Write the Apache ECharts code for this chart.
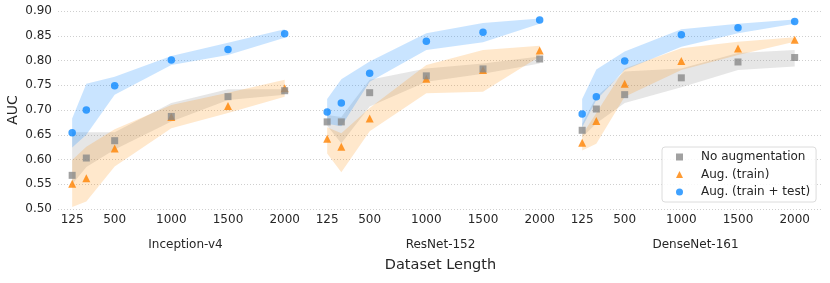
<!DOCTYPE html>
<html><head><meta charset="utf-8">
<script src="https://cdn.jsdelivr.net/npm/echarts@6/dist/echarts.min.js"></script>
<style>html,body{margin:0;padding:0;background:#fff}#c{width:830px;height:283px}</style>
</head><body><div id="c"></div>
<script>
// ---- data ----
const lengths = [125, 250, 500, 1000, 1500, 2000];
const xTickValues = [125, 500, 1000, 1500, 2000];
const models = ['Inception-v4', 'ResNet-152', 'DenseNet-161'];
const seriesNames = ['No augmentation', 'Aug. (train)', 'Aug. (train + test)'];

// Inception-v4
const incNoAug   = [0.568, 0.603, 0.638, 0.687, 0.727, 0.739];
const incNoAugLo = [0.550, 0.585, 0.620, 0.677, 0.720, 0.731];
const incNoAugHi = [0.655, 0.655, 0.655, 0.714, 0.742, 0.742];
const incAug     = [0.551, 0.562, 0.622, 0.686, 0.708, 0.744];
const incAugLo   = [0.504, 0.515, 0.586, 0.663, 0.694, 0.727];
const incAugHi   = [0.599, 0.626, 0.661, 0.710, 0.735, 0.761];
const incTta     = [0.654, 0.700, 0.749, 0.801, 0.822, 0.854];
const incTtaLo   = [0.624, 0.650, 0.731, 0.791, 0.811, 0.846];
const incTtaHi   = [0.683, 0.753, 0.767, 0.809, 0.836, 0.863];

// ResNet-152
const resNoAug   = [0.676, 0.676, 0.735, 0.769, 0.783, 0.803];
const resNoAugLo = [0.668, 0.633, 0.707, 0.757, 0.773, 0.794];
const resNoAugHi = [0.690, 0.686, 0.761, 0.784, 0.794, 0.808];
const resAug     = [0.642, 0.626, 0.683, 0.763, 0.781, 0.820];
const resAugLo   = [0.612, 0.574, 0.657, 0.734, 0.737, 0.808];
const resAugHi   = [0.665, 0.653, 0.704, 0.791, 0.821, 0.830];
const resTta     = [0.696, 0.714, 0.774, 0.839, 0.857, 0.882];
const resTtaLo   = [0.672, 0.667, 0.757, 0.821, 0.837, 0.874];
const resTtaHi   = [0.722, 0.762, 0.798, 0.855, 0.876, 0.885];

// DenseNet-161
const denNoAug   = [0.659, 0.702, 0.731, 0.765, 0.797, 0.806];
const denNoAugLo = [0.645, 0.673, 0.714, 0.746, 0.781, 0.788];
const denNoAugHi = [0.672, 0.727, 0.778, 0.784, 0.815, 0.821];
const denAug     = [0.634, 0.678, 0.753, 0.799, 0.824, 0.842];
const denAugLo   = [0.618, 0.632, 0.727, 0.781, 0.811, 0.838];
const denAugHi   = [0.650, 0.694, 0.784, 0.825, 0.838, 0.847];
const denTta     = [0.692, 0.727, 0.799, 0.852, 0.866, 0.879];
const denTtaLo   = [0.665, 0.720, 0.781, 0.828, 0.855, 0.874];
const denTtaHi   = [0.722, 0.782, 0.818, 0.863, 0.874, 0.883];

const panels = [
  {noAug: incNoAug, noAugLo: incNoAugLo, noAugHi: incNoAugHi, aug: incAug, augLo: incAugLo, augHi: incAugHi, tta: incTta, ttaLo: incTtaLo, ttaHi: incTtaHi},
  {noAug: resNoAug, noAugLo: resNoAugLo, noAugHi: resNoAugHi, aug: resAug, augLo: resAugLo, augHi: resAugHi, tta: resTta, ttaLo: resTtaLo, ttaHi: resTtaHi},
  {noAug: denNoAug, noAugLo: denNoAugLo, noAugHi: denNoAugHi, aug: denAug, augLo: denAugLo, augHi: denAugHi, tta: denTta, ttaLo: denTtaLo, ttaHi: denTtaHi}
];

// ---- styles ----
const FONT = 'DejaVu Sans';
const TXT = '#262626';
const C_GRAY = '#8a8a8a', C_ORANGE = '#ff8200', C_BLUE = '#0f8aff';
const B_GRAY = 'rgba(128,128,128,0.2)', B_ORANGE = 'rgba(255,140,0,0.2)', B_BLUE = 'rgba(30,144,255,0.24)';

const chart = echarts.init(document.getElementById('c'), null, {renderer: 'canvas'});

const GL = 58, GW = 255, GT = 11, GH = 198;
const grids = [], xAxes = [], yAxes = [], series = [];

function band(i, lo, hi, color) {
  return {
    type: 'custom', xAxisIndex: i, yAxisIndex: i, silent: true, z: 1, clip: true,
    data: [[lengths[0], lo[0]]],
    renderItem: function (params, api) {
      const pts = [];
      for (let k = 0; k < lengths.length; k++) pts.push(api.coord([lengths[k], hi[k]]));
      for (let k = lengths.length - 1; k >= 0; k--) pts.push(api.coord([lengths[k], lo[k]]));
      return {type: 'polygon', shape: {points: pts}, style: {fill: color}};
    }
  };
}
function pts(vals) { return lengths.map((x, k) => [x, vals[k]]); }

panels.forEach((p, i) => {
  grids.push({left: GL + GW * i, top: GT, width: GW, height: GH, containLabel: false});
  xAxes.push({
    type: 'value', gridIndex: i, min: 0, max: 2250,
    name: models[i], nameLocation: 'middle', nameGap: 30,
    nameTextStyle: {fontFamily: FONT, fontSize: 12, color: TXT},
    axisLine: {show: false}, axisTick: {show: false}, splitLine: {show: false},
    axisLabel: {customValues: xTickValues, fontFamily: FONT, fontSize: 12, color: TXT, margin: 5,
      hideOverlap: false, formatter: v => String(v)}
  });
  yAxes.push({
    type: 'value', gridIndex: i, min: 0.5, max: 0.9, interval: 0.05,
    name: i === 0 ? 'AUC' : '', nameLocation: 'middle', nameGap: 38,
    nameTextStyle: {fontFamily: FONT, fontSize: 14, color: TXT},
    axisLine: {show: false}, axisTick: {show: false},
    splitLine: {show: true, lineStyle: {color: '#cfcfcf', width: 1, type: [1, 2]}},
    axisLabel: {show: i === 0, fontFamily: FONT, fontSize: 12, color: TXT, margin: 6,
      formatter: v => v.toFixed(2)}
  });
  series.push(band(i, p.noAugLo, p.noAugHi, B_GRAY));
  series.push(band(i, p.augLo, p.augHi, B_ORANGE));
  series.push(band(i, p.ttaLo, p.ttaHi, B_BLUE));
  series.push({name: seriesNames[1], type: 'scatter', xAxisIndex: i, yAxisIndex: i, z: 3,
    symbol: 'triangle', symbolSize: 8, itemStyle: {color: C_ORANGE}, data: pts(p.aug), silent: true});
  series.push({name: seriesNames[2], type: 'scatter', xAxisIndex: i, yAxisIndex: i, z: 4,
    symbol: 'circle', symbolSize: 7.5, itemStyle: {color: C_BLUE}, data: pts(p.tta), silent: true});
  series.push({name: seriesNames[0], type: 'scatter', xAxisIndex: i, yAxisIndex: i, z: 5,
    symbol: 'rect', symbolSize: 7, itemStyle: {color: C_GRAY}, data: pts(p.noAug), silent: true});
});

chart.setOption({
  animation: false,
  backgroundColor: '#fff',
  grid: grids, xAxis: xAxes, yAxis: yAxes, series: series,
  legend: {
    orient: 'vertical', left: 662, top: 147,
    data: [
      {name: seriesNames[0], icon: 'rect'},
      {name: seriesNames[1], icon: 'triangle'},
      {name: seriesNames[2], icon: 'circle'}
    ],
    itemWidth: 7, itemHeight: 7, itemGap: 5.5,
    padding: [4, 6, 4, 14],
    backgroundColor: 'rgba(255,255,255,0.85)', borderColor: '#dcdcdc', borderWidth: 1, borderRadius: 3,
    formatter: name => '{g|}' + name,
    textStyle: {fontFamily: FONT, fontSize: 12, color: TXT, lineHeight: 12,
      rich: {g: {width: 13, height: 12}}},
    selectedMode: false
  },
  graphic: [{
    type: 'text', x: 440.5, y: 265,
    style: {text: 'Dataset Length', font: '14.5px "DejaVu Sans"', fill: TXT, align: 'center', verticalAlign: 'middle',
      textAlign: 'center', textVerticalAlign: 'middle'}
  }]
});
</script></body></html>
